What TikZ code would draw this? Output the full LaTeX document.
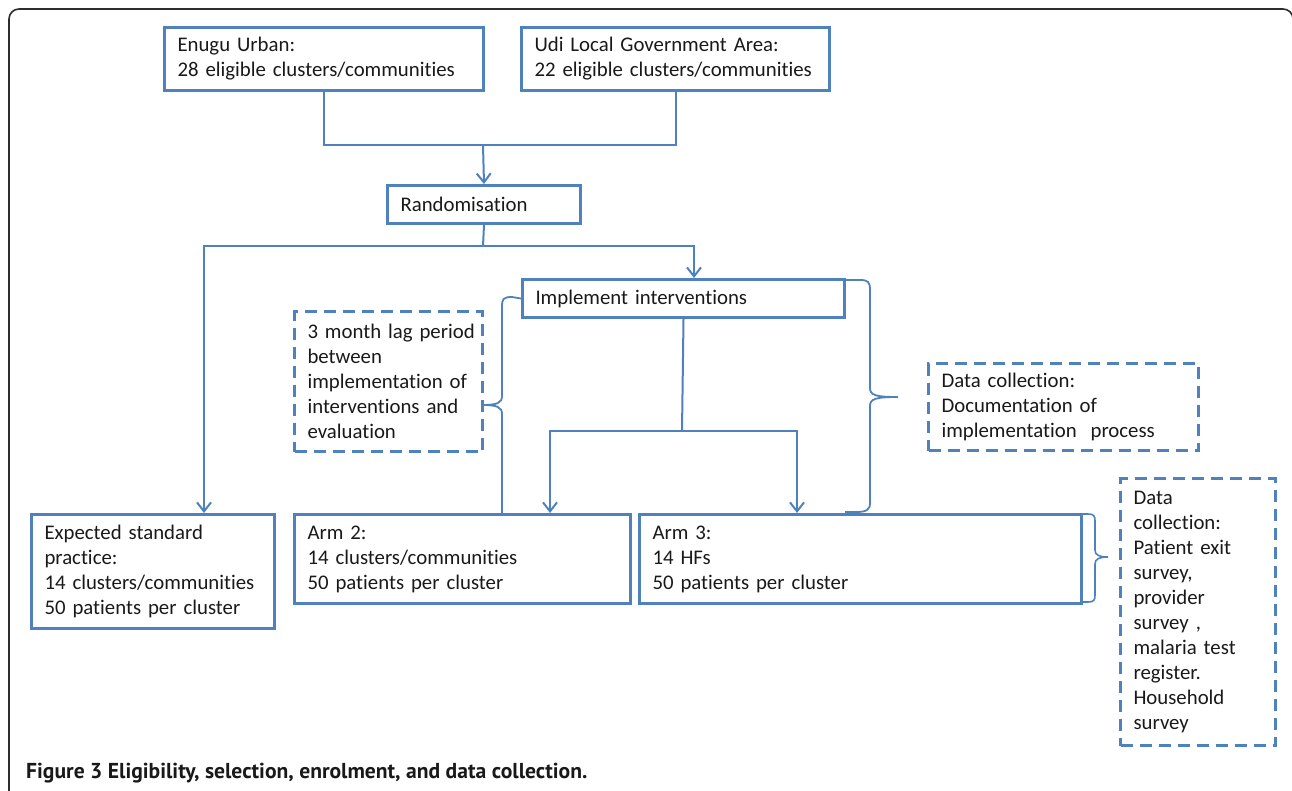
\documentclass[tikz,border=0pt]{standalone}
\usepackage{fontspec}
\setmainfont{Carlito}[Ligatures={NoCommon,NoRare,NoDiscretionary}]
\newfontfamily\capfont{PT Sans}
\usetikzlibrary{arrows.meta}
\definecolor{boxblue}{RGB}{79,129,189}
\definecolor{txt}{RGB}{25,25,25}
\definecolor{framec}{RGB}{45,45,45}
\tikzset{
  box/.style={draw=boxblue, line width=3pt, rectangle, anchor=north west,
    inner xsep=13pt, inner ysep=0pt, align=left, text=txt,
    font=\fontsize{20.8}{25}\selectfont},
  dbox/.style={box, dash pattern=on 12pt off 7pt},
  conn/.style={draw=boxblue, line width=2pt},
  arr/.style={conn, -{Straight Barb[length=9pt,width=14pt,line width=2pt]}},
}
\begin{document}
\begin{tikzpicture}[x=1pt,y=-1pt]
\useasboundingbox (0,0) rectangle (1292,790);
\draw[framec, line width=1.6pt, rounded corners=10pt] (9,800) -- (9,9) -- (1293,9) -- (1293,800);

\node[box, minimum width=319pt, minimum height=63pt, text width=293pt] (enugu) at (163,26)
  {Enugu Urban:\\28 eligible clusters/communities};
\node[box, minimum width=308pt, minimum height=63pt, text width=282pt] (udi) at (520,26)
  {Udi Local Government Area:\\22 eligible clusters/communities};
\node[box, minimum width=193pt, minimum height=38pt, text width=167pt] (rand) at (386,184)
  {Randomisation};
\node[box, minimum width=322pt, minimum height=38pt, text width=296pt] (impl) at (521,278)
  {Implement interventions};
\node[dbox, minimum width=188pt, minimum height=140pt, text width=162pt] (lag) at (293,310)
  {\mbox{3 month lag period}\\between\\\mbox{implementation of}\\\mbox{interventions and}\\evaluation};
\node[dbox, minimum width=270pt, minimum height=87pt, text width=244pt] (doc) at (927,362)
  {Data collection:\\Documentation of\\\mbox{implementation\ \ process}};
\node[box, minimum width=243pt, minimum height=114pt, text width=217pt] (exp) at (30,513)
  {Expected standard\\practice:\\\mbox{14 clusters/communities}\\50 patients per cluster};
\node[box, minimum width=336pt, minimum height=89pt, text width=310pt] (arm2) at (293,513)
  {Arm 2:\\14 clusters/communities\\50 patients per cluster};
\node[box, minimum width=442pt, minimum height=89pt, text width=416pt] (arm3) at (638,513)
  {Arm 3:\\14 HFs\\50 patients per cluster};
\node[dbox, minimum width=155pt, minimum height=267pt, text width=129pt] (dc) at (1119,477)
  {Data\\collection:\\Patient exit\\survey,\\provider\\survey ,\\malaria test\\register.\\Household\\survey};

% connectors
\coordinate (m1) at (483,145);
\draw[conn] (enugu.south) |- (m1) -| (udi.south);
\draw[arr] (m1) -- (rand.north);
\coordinate (s1) at (483,246);
\coordinate (expin) at (204,513);
\coordinate (implin) at (694,278);
\draw[conn] (rand.south) -- (s1);
\draw[arr] (s1) -| (expin);
\draw[arr] (s1) -| (implin);
\coordinate (s2) at (682,431);
\coordinate (arm2in) at (550,513);
\coordinate (arm3in) at (797,513);
\draw[conn] (impl.south) -- (s2);
\draw[arr] (s2) -| (arm2in);
\draw[arr] (s2) -| (arm3in);

% braces
\coordinate (lbtip) at (482,405);
\coordinate (rbtip) at (898,397);
\coordinate (sbtip) at (1108,557);
\draw[conn, line width=1.8pt] (impl.west) -- (512,297) .. controls (503,297) and (502,299) .. (502,307)
  -- (502,396) .. controls (502,403) and (497,405) .. (lbtip)
  (lbtip) .. controls (497,405) and (502,407) .. (502,414) -- (502,513);
\draw[conn, line width=1.8pt] (impl.north east) ++(0,2) -- (860,280) .. controls (868,280) and (870,282) .. (870,290)
  -- (870,388) .. controls (870,395) and (875,397) .. (rbtip)
  (rbtip) .. controls (875,397) and (870,399) .. (870,406)
  -- (870,503) .. controls (870,510) and (866,512) .. (856,512) -- (845,512);
\draw[conn, line width=1.6pt] (1080,514) -- (1088,514) .. controls (1094,514) and (1095,516) .. (1095,521)
  -- (1095,550) .. controls (1095,555) and (1099,557) .. (sbtip)
  (sbtip) .. controls (1099,557) and (1095,559) .. (1095,564)
  -- (1095,595) .. controls (1095,600) and (1094,602) .. (1088,602) -- (1080,602);

\node[anchor=west, inner sep=0pt, text=txt, font=\capfont\bfseries\fontsize{21.6}{24}\selectfont] (cap) at (26,773)
  {Figure 3 Eligibility, selection, enrolment, and data collection.};
\end{tikzpicture}
\end{document}
